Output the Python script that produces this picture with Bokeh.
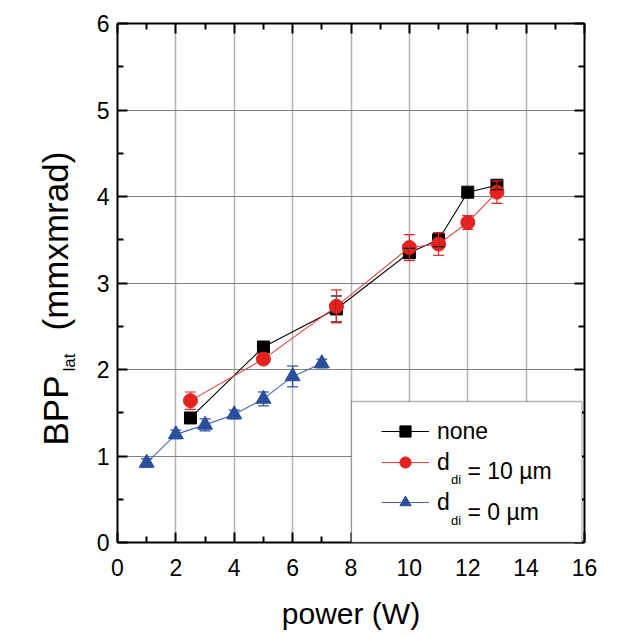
import math
from bokeh.plotting import figure
from bokeh.layouts import row
from bokeh.models import (ColumnDataSource, Whisker, TeeHead, LinearAxis, FixedTicker,
                          Range1d, Label, Legend, LegendItem, BoxAnnotation,
                          CustomLabelingPolicy)
from bokeh.embed import file_html
from bokeh.resources import INLINE

# ---------------- data ----------------
power_none = [2.5, 5.0, 7.5, 10.0, 11.0, 12.0, 13.0]
bpp_none = [1.44, 2.26, 2.70, 3.35, 3.50, 4.05, 4.13]
err_none = [0.06, 0.03, 0.15, 0.05, 0.08, 0.03, 0.05]

power_d10 = [2.5, 5.0, 7.5, 10.0, 11.0, 12.0, 13.0]
bpp_d10 = [1.64, 2.12, 2.73, 3.41, 3.45, 3.70, 4.05]
err_d10 = [0.10, 0.04, 0.19, 0.15, 0.13, 0.08, 0.13]

power_d0 = [1.0, 2.0, 3.0, 4.0, 5.0, 6.0, 7.0]
bpp_d0 = [0.92, 1.25, 1.36, 1.48, 1.66, 1.92, 2.07]
err_d0 = [0.05, 0.05, 0.07, 0.05, 0.08, 0.12, 0.05]

x_ticks = [0, 2, 4, 6, 8, 10, 12, 14, 16]
x_minor = [1, 3, 5, 7, 9, 11, 13, 15]
y_ticks = [0, 1, 2, 3, 4, 5, 6]
y_minor = [0.5, 1.5, 2.5, 3.5, 4.5, 5.5]

x_title = "power (W)"
y_title_main = "BPP"
y_title_sub = "lat"
y_title_unit = "(mmxmrad)"

legend_main = ["none", "d", "d"]
legend_sub = ["", "di", "di"]
legend_rest = ["", "= 10 µm", "= 0 µm"]

# ---------------- style ----------------
FONT = "Liberation Sans"
BLACK = "#000000"
RED = "#e3231f"
RED_LINE = "#e8403a"
BLUE = "#2b4e9d"
BLUE_LINE = "#4668b0"

W, H = 630, 636
TW = 88                      # width of the strip that carries the y title
# frame position in page pixels
FL, FR, FT, FB = 117, 584, 23, 542
X0, X1, Y0, Y1 = 0, 16, 0, 6


def X(sx):
    return X0 + (sx - FL) / (FR - FL) * (X1 - X0)


def Y(sy):
    return Y0 + (FB - sy) / (FB - FT) * (Y1 - Y0)


# ---------- y-title strip (its frame is aligned with the main frame rows) ----------
t = figure(width=TW, height=H, x_range=Range1d(0, TW), y_range=Range1d(H - FB, H - FT),
           x_axis_type=None, y_axis_type=None,
           output_backend="svg", toolbar_location=None, min_border=0)
t.outline_line_color = None
t.background_fill_color = "white"
t.border_fill_color = "white"


def ylab(sx, sy, text, size):
    t.add_layout(Label(x=sx, y=H - sy, text=text, angle=math.pi / 2,
                       text_font=FONT, text_font_size=size, text_color="black",
                       text_align="left", text_baseline="alphabetic"))


ylab(55, 445, y_title_main, "35px")
ylab(69, 371, y_title_sub, "17px")
ylab(55, 330, y_title_unit, "35px")

# ---------- main plot ----------
p = figure(width=W - TW, height=H, x_range=Range1d(X0, X1), y_range=Range1d(Y0, Y1),
           output_backend="svg", toolbar_location=None,
           min_border_left=FL - TW, min_border_right=W - FR,
           min_border_top=FT, min_border_bottom=H - FB)
p.outline_line_color = None
p.background_fill_color = "white"
p.border_fill_color = "white"


def style_axis(ax, ticks, minor, standoff):
    ax.ticker = FixedTicker(ticks=ticks, minor_ticks=minor)
    ax.axis_line_color = "black"
    ax.axis_line_width = 2
    ax.major_tick_in = 10
    ax.major_tick_out = 0
    ax.minor_tick_in = 6
    ax.minor_tick_out = 0
    ax.major_tick_line_width = 2
    ax.minor_tick_line_width = 2
    ax.major_tick_line_color = "black"
    ax.minor_tick_line_color = "black"
    ax.major_label_text_font = FONT
    ax.major_label_text_color = "black"
    ax.major_label_text_font_size = "23px"
    ax.major_label_standoff = standoff


style_axis(p.xaxis[0], x_ticks, x_minor, 16)
style_axis(p.yaxis[0], y_ticks, y_minor, 8)
p.xaxis[0].axis_label = x_title
p.xaxis[0].axis_label_text_font = FONT
p.xaxis[0].axis_label_text_font_size = "30px"
p.xaxis[0].axis_label_text_font_style = "normal"
p.xaxis[0].axis_label_text_color = "black"
p.xaxis[0].axis_label_standoff = 18

hide_labels = "for (const i of indices) { indices.unset(i) }"

top_ax = LinearAxis()
style_axis(top_ax, x_ticks, x_minor, 0)
top_ax.major_label_text_font_size = "1px"
top_ax.major_label_policy = CustomLabelingPolicy(code=hide_labels)
p.add_layout(top_ax, "above")

right_ax = LinearAxis()
style_axis(right_ax, y_ticks, y_minor, 0)
right_ax.major_label_text_font_size = "1px"
right_ax.major_label_policy = CustomLabelingPolicy(code=hide_labels)
p.add_layout(right_ax, "right")

p.xgrid.ticker = FixedTicker(ticks=x_ticks)
p.ygrid.ticker = FixedTicker(ticks=y_ticks)
p.xgrid.grid_line_color = "#b3b3b3"
p.xgrid.grid_line_width = 1.5
p.ygrid.grid_line_color = "#808080"
p.ygrid.grid_line_width = 1


def make_source(xs, ys, es):
    return ColumnDataSource(dict(x=xs, y=ys,
                                 lo=[a - b for a, b in zip(ys, es)],
                                 hi=[a + b for a, b in zip(ys, es)]))


src_none = make_source(power_none, bpp_none, err_none)
src_d10 = make_source(power_d10, bpp_d10, err_d10)
src_d0 = make_source(power_d0, bpp_d0, err_d0)


def add_whisker(src, color):
    w = Whisker(source=src, base="x", upper="hi", lower="lo",
                line_color=color, line_width=1.2, level="glyph",
                upper_head=TeeHead(size=11, line_color=color, line_width=1.2),
                lower_head=TeeHead(size=11, line_color=color, line_width=1.2))
    p.add_layout(w)


add_whisker(src_d0, BLUE)
l_d0 = p.line("x", "y", source=src_d0, line_color=BLUE_LINE, line_width=1.1)
s_d0 = p.scatter("x", "y", source=src_d0, marker="triangle", size=15,
                 fill_color=BLUE, line_color=BLUE)

add_whisker(src_none, BLACK)
l_none = p.line("x", "y", source=src_none, line_color=BLACK, line_width=1.1)
s_none = p.scatter("x", "y", source=src_none, marker="square", size=12,
                   fill_color=BLACK, line_color=BLACK)

add_whisker(src_d10, RED)
l_d10 = p.line("x", "y", source=src_d10, line_color=RED_LINE, line_width=1.1)
s_d10 = p.scatter("x", "y", source=src_d10, marker="circle", size=14,
                  fill_color=RED, line_color=RED)

# legend box
p.add_layout(BoxAnnotation(left=X(351), right=X(581.5), bottom=Y(FB), top=Y(401),
                           fill_color="white", fill_alpha=1.0,
                           line_color="black", line_width=1.3))

row_centers = [431, 462, 502]
row_base = [437, 470, 511]
row_renderers = [[l_none, s_none], [l_d10, s_d10], [l_d0, s_d0]]
for i in range(3):
    lg = Legend(items=[LegendItem(label=legend_main[i], renderers=row_renderers[i])],
                location=(381 - FL, FB - row_centers[i] - 14),
                padding=0, margin=0, spacing=0,
                glyph_width=48, glyph_height=28,
                label_height=28, label_standoff=8,
                label_text_font=FONT, label_text_font_size="23px",
                label_text_color="black",
                border_line_color=None, background_fill_alpha=0.0)
    p.add_layout(lg)
    if legend_sub[i]:
        p.add_layout(Label(x=X(450.5), y=Y(row_base[i] + 9), text=legend_sub[i],
                           text_font=FONT, text_font_size="13px", text_color="black",
                           text_align="left", text_baseline="alphabetic"))
    if legend_rest[i]:
        p.add_layout(Label(x=X(467), y=Y(row_base[i]), text=legend_rest[i],
                           text_font=FONT, text_font_size="23px", text_color="black",
                           text_align="left", text_baseline="alphabetic"))

layout = row(t, p, spacing=0)
open("out.html", "w").write(file_html(layout, INLINE))
